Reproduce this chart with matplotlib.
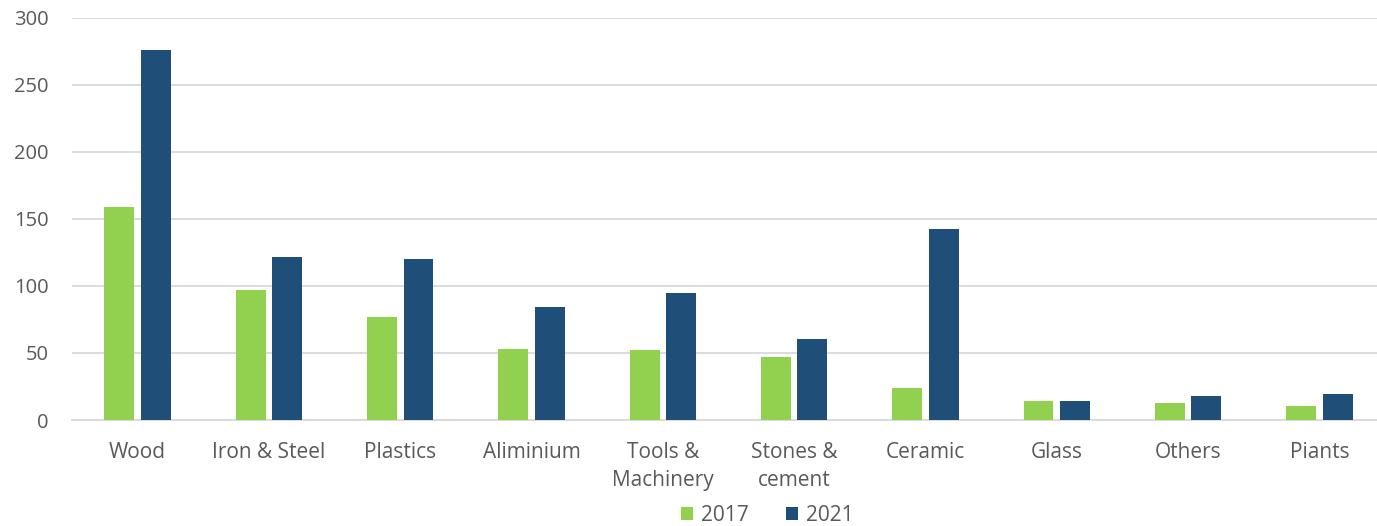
import numpy as np
from matplotlib import pyplot as plt

# категории и значения по годам
categories = ['Wood', 'Iron & Steel', 'Plastics', 'Aliminium', 'Tools &\nMachinery',
              'Stones &\ncement', 'Ceramic', 'Glass', 'Others', 'Piants']
values_2017 = [159, 97, 77, 53, 52, 47, 24, 14, 13, 10.5]
values_2021 = [276, 121.5, 120, 84.5, 94.5, 60.5, 142.5, 14.5, 18, 19.5]
years = ['2017', '2021']

plt.rcParams['font.family'] = ['Open Sans', 'DejaVu Sans']

fig = plt.figure(figsize=(13.77, 5.26), dpi=100)
# область графика выходит чуть за правый край, как в исходном рисунке
ax = fig.add_axes([72 / 1377, 106 / 526, 1313 / 1377, 402.3 / 526])

x = np.arange(len(categories))
w = 0.228
off = 0.139
ax.bar(x - off, values_2017, w, color='#92D050', label=years[0], zorder=3)
ax.bar(x + off, values_2021, w, color='#1F4E79', label=years[1], zorder=3)

ax.set_xlim(-0.5, len(categories) - 0.5)
ax.set_ylim(0, 300)
ax.set_yticks(range(0, 301, 50))
ax.set_xticks(x)
ax.set_xticklabels(categories, linespacing=1.45)

ax.grid(axis='y', color='#D9D9D9', linewidth=1.3, zorder=0)
for s in ['top', 'right', 'left']:
    ax.spines[s].set_visible(False)
ax.spines['bottom'].set_color('#D9D9D9')
ax.spines['bottom'].set_linewidth(1.3)
ax.tick_params(axis='both', length=0, colors='#595959')
ax.tick_params(axis='x', pad=16, labelsize=15)
ax.tick_params(axis='y', pad=17, labelsize=14.5)

leg = fig.legend(loc='lower center', bbox_to_anchor=(0.557, -0.035), ncol=2,
                 frameon=False, fontsize=15, handlelength=0.6, handleheight=0.6,
                 handletextpad=0.35, columnspacing=1.8)
for t in leg.get_texts():
    t.set_color('#595959')

fig.savefig('out.png', dpi=100)
